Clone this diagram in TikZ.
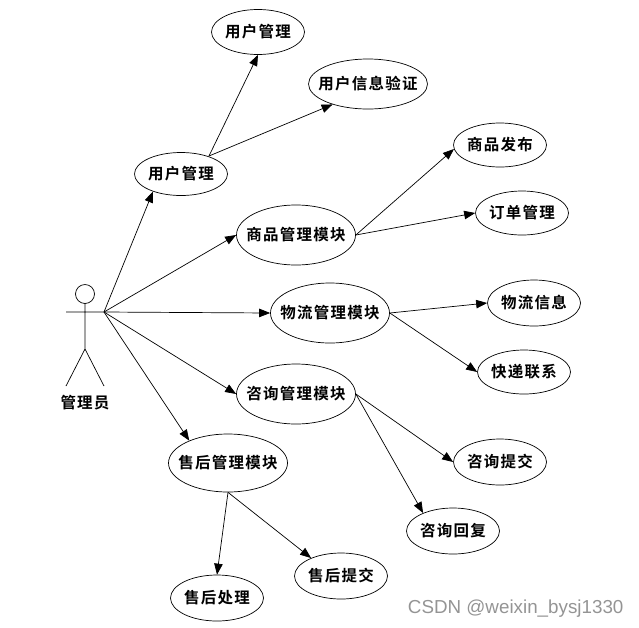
\documentclass[tikz,border=0pt]{standalone}
\usepackage{fontspec}
\setmainfont{Noto Sans CJK SC}[BoldFont={Noto Sans CJK SC Bold}]
\newfontfamily\wmfont{Liberation Sans}
\usetikzlibrary{shapes.geometric,arrows.meta}
\begin{document}
\begin{tikzpicture}[x=1pt,y=-1pt,>={Triangle[length=11pt,width=8.5pt]},
    label text/.style={font=\bfseries\fontsize{15.5}{17}\selectfont\addfontfeature{LetterSpace=8}},
    usecase/.style={draw, ellipse, inner ysep=0pt, inner xsep=-14pt, line width=0.7pt, label text},
    link/.style={->, black, line width=0.7pt}]
    \path[use as bounding box] (0,0) rectangle (639,627);
    % actor
    \node[draw, circle, minimum size=19pt, inner sep=0pt, line width=0.7pt] (head) at (85,294) {};
    \coordinate (neck) at (85,303.5);
    \coordinate (hip) at (85,349);
    \coordinate (armL) at (66,312);
    \coordinate (armR) at (104,312);
    \coordinate (legL) at (66,386);
    \coordinate (legR) at (104,386);
    \draw[line width=0.7pt] (neck) -- (hip) (armL) -- (armR) (hip) -- (legL) (hip) -- (legR);
    \node[label text] (actor) at (85,403) {管理员};
    % use cases
    \node[usecase, minimum width=93pt, minimum height=43pt] (user) at (181,174) {用户管理};
    \node[usecase, minimum width=93pt, minimum height=45pt] (usermgr) at (258,32) {用户管理};
    \node[usecase, minimum width=119pt, minimum height=50pt] (verify) at (368,84) {用户信息验证};
    \node[usecase, minimum width=119pt, minimum height=60pt] (goods) at (296,235) {商品管理模块};
    \node[usecase, minimum width=93pt, minimum height=44pt] (publish) at (500,145) {商品发布};
    \node[usecase, minimum width=93pt, minimum height=44pt] (order) at (522,213) {订单管理};
    \node[usecase, minimum width=119pt, minimum height=60pt] (wuliu) at (330,313) {物流管理模块};
    \node[usecase, minimum width=93pt, minimum height=46pt] (info) at (534,303) {物流信息};
    \node[usecase, minimum width=93pt, minimum height=44pt] (express) at (524,372) {快递联系};
    \node[usecase, minimum width=119pt, minimum height=60pt] (consult) at (296,394) {咨询管理模块};
    \node[usecase, minimum width=93pt, minimum height=46pt] (submit) at (500,462) {咨询提交};
    \node[usecase, minimum width=93pt, minimum height=46pt] (reply) at (453,531) {咨询回复};
    \node[usecase, minimum width=119pt, minimum height=58pt] (after) at (228,463) {售后管理模块};
    \node[usecase, minimum width=93pt, minimum height=46pt] (handle) at (217,598) {售后处理};
    \node[usecase, minimum width=93pt, minimum height=46pt] (aftersub) at (341,576) {售后提交};
    % links
    \coordinate (userOut) at (209,156);
    \draw[link] (armR) -- (user.212);
    \draw[link] (armR) -- (goods.west);
    \draw[link] (armR) -- (wuliu.west);
    \draw[link] (armR) -- (consult.west);
    \draw[link] (armR) -- (after.150);
    \draw[link] (userOut) -- (usermgr.south);
    \draw[link] (userOut) -- (verify.210);
    \draw[link] (goods.east) -- (publish.185);
    \draw[link] (goods.east) -- (order.west);
    \draw[link] (wuliu.east) -- (info.west);
    \draw[link] (wuliu.east) -- (express.west);
    \draw[link] (consult.east) -- (submit.west);
    \draw[link] (consult.east) -- (reply.149);
    \draw[link] (after.south) -- (handle.north);
    \draw[link] (after.south) -- (aftersub.149);
    \node[font=\wmfont\fontsize{18.8}{20}\selectfont, text=black!42, anchor=east] (mark) at (627,609) {CSDN @weixin\_bysj1330};
\end{tikzpicture}
\end{document}
